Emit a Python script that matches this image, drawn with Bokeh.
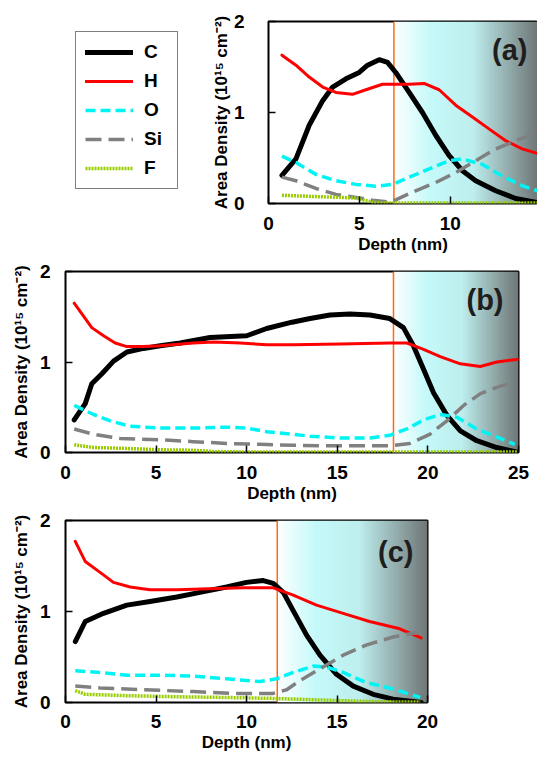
import numpy as np
from bokeh.plotting import figure
from bokeh.models import Legend, LegendItem, Label, Span, FixedTicker, Range1d
from bokeh.layouts import column, row
from bokeh.embed import file_html
from bokeh.resources import INLINE

# ---------------- data ----------------
elements = ["C", "H", "O", "Si", "F"]

# panel (a)
a_xmax = 14.8
a_boundary = 6.9
a_C_x = [0.74, 1.51, 2.24, 2.98, 3.53, 4.26, 4.99, 5.45, 6.09, 6.55, 7.0, 7.74, 8.47, 9.2, 9.93, 10.67, 11.4, 12.5, 13.6, 14.8]
a_C_y = [0.31, 0.49, 0.86, 1.13, 1.28, 1.37, 1.44, 1.52, 1.58, 1.55, 1.44, 1.22, 1.0, 0.75, 0.53, 0.36, 0.25, 0.14, 0.055, 0.01]
a_H_x = [0.74, 1.51, 2.24, 2.98, 3.71, 4.62, 5.36, 6.27, 7.0, 7.74, 8.56, 9.39, 10.3, 11.22, 12.13, 13.05, 13.96, 14.8]
a_H_y = [1.63, 1.52, 1.39, 1.28, 1.22, 1.20, 1.25, 1.31, 1.31, 1.31, 1.32, 1.25, 1.08, 0.95, 0.82, 0.69, 0.60, 0.55]
a_O_x = [0.74, 1.51, 2.61, 3.71, 4.81, 5.9, 6.82, 7.74, 8.84, 9.93, 10.67, 11.77, 12.87, 13.96, 14.8]
a_O_y = [0.52, 0.45, 0.32, 0.25, 0.21, 0.19, 0.21, 0.29, 0.38, 0.47, 0.49, 0.43, 0.30, 0.195, 0.14]
a_Si_x = [0.74, 1.51, 2.61, 3.71, 4.81, 5.72, 6.55, 7.0, 8.1, 9.2, 10.3, 11.4, 12.5, 13.6, 14.8]
a_Si_y = [0.29, 0.25, 0.165, 0.10, 0.066, 0.035, 0.017, 0.04, 0.14, 0.23, 0.34, 0.47, 0.60, 0.69, 0.78]
a_F_x = [0.74, 2.06, 3.53, 4.81, 5.72, 6.27, 8.0, 10.0, 12.0, 14.8]
a_F_y = [0.09, 0.08, 0.07, 0.06, 0.015, 0.005, 0.005, 0.005, 0.005, 0.005]

# panel (b)
b_xmax = 25.0
b_boundary = 18.1
b_C_x = [0.48, 1.09, 1.45, 2.01, 2.65, 3.39, 4.31, 5.23, 6.33, 7.98, 10.0, 11.1, 12.5, 13.5, 14.6, 15.7, 16.8, 17.9, 18.65, 19.2, 19.76, 20.31, 21.05, 21.79, 22.7, 23.8, 25.0]
b_C_y = [0.36, 0.54, 0.76, 0.87, 1.01, 1.11, 1.15, 1.18, 1.21, 1.27, 1.29, 1.37, 1.44, 1.48, 1.52, 1.53, 1.52, 1.48, 1.38, 1.18, 0.92, 0.66, 0.41, 0.24, 0.13, 0.055, 0.0]
b_H_x = [0.48, 1.45, 2.1, 2.74, 3.39, 4.31, 5.23, 7.06, 8.17, 9.64, 11.1, 12.58, 15.16, 17.9, 18.84, 19.76, 20.68, 21.79, 22.89, 23.8, 25.0]
b_H_y = [1.65, 1.38, 1.29, 1.21, 1.17, 1.17, 1.18, 1.21, 1.22, 1.21, 1.19, 1.19, 1.20, 1.21, 1.21, 1.14, 1.06, 0.98, 0.95, 1.0, 1.03]
b_O_x = [0.48, 1.55, 2.47, 3.57, 5.23, 7.06, 8.9, 10.0, 11.1, 12.58, 13.5, 15.16, 16.8, 17.9, 18.84, 19.76, 20.68, 21.6, 22.7, 23.8, 24.8]
b_O_y = [0.52, 0.42, 0.35, 0.29, 0.27, 0.27, 0.28, 0.27, 0.23, 0.20, 0.18, 0.16, 0.16, 0.19, 0.26, 0.36, 0.42, 0.39, 0.26, 0.17, 0.09]
b_Si_x = [0.48, 1.55, 3.02, 5.23, 7.06, 8.9, 10.74, 12.58, 14.24, 16.0, 17.9, 19.0, 20.1, 21.05, 21.97, 22.9, 23.8, 24.6]
b_Si_y = [0.26, 0.20, 0.155, 0.14, 0.12, 0.10, 0.09, 0.08, 0.074, 0.074, 0.074, 0.10, 0.20, 0.35, 0.52, 0.65, 0.72, 0.77]
b_F_x = [0.48, 1.55, 3.39, 5.23, 7.06, 8.35, 12.0, 16.0, 20.0, 25.0]
b_F_y = [0.085, 0.055, 0.045, 0.03, 0.025, 0.008, 0.005, 0.005, 0.005, 0.005]

# panel (c)
c_xmax = 20.0
c_boundary = 11.7
c_C_x = [0.54, 1.09, 2.1, 3.39, 4.67, 6.15, 7.43, 8.9, 10.0, 10.93, 11.48, 12.03, 12.58, 13.32, 14.06, 14.97, 15.9, 17.0, 18.1, 19.65]
c_C_y = [0.67, 0.89, 0.98, 1.07, 1.11, 1.16, 1.21, 1.27, 1.32, 1.34, 1.31, 1.21, 1.01, 0.74, 0.52, 0.31, 0.18, 0.09, 0.037, 0.0]
c_H_x = [0.54, 1.09, 1.91, 2.65, 3.57, 4.67, 6.15, 7.98, 9.82, 11.48, 12.58, 13.87, 15.34, 16.8, 18.47, 19.65]
c_H_y = [1.77, 1.55, 1.43, 1.32, 1.27, 1.24, 1.24, 1.25, 1.26, 1.26, 1.18, 1.07, 0.98, 0.89, 0.81, 0.71]
c_O_x = [0.54, 1.91, 3.39, 5.23, 7.06, 8.9, 10.74, 11.66, 12.58, 13.69, 14.43, 15.34, 16.6, 18.1, 19.6]
c_O_y = [0.35, 0.33, 0.30, 0.30, 0.29, 0.26, 0.23, 0.26, 0.33, 0.40, 0.39, 0.33, 0.22, 0.15, 0.055]
c_Si_x = [0.54, 1.91, 4.31, 7.06, 9.27, 11.48, 12.22, 12.95, 14.06, 15.34, 16.6, 18.1, 19.2, 19.6]
c_Si_y = [0.18, 0.16, 0.14, 0.12, 0.10, 0.10, 0.14, 0.24, 0.37, 0.52, 0.63, 0.72, 0.76, 0.77]
c_F_x = [0.54, 1.09, 3.39, 6.15, 8.9, 11.48, 14.43, 17.2, 19.6]
c_F_y = [0.13, 0.09, 0.075, 0.063, 0.055, 0.045, 0.025, 0.008, 0.005]

y_ticks = [0, 1, 2]
x_ticks = [0, 5, 10, 15, 20, 25]
y_label = "Area Density (10\u00b9\u2075 cm\u207b\u00b2)"
x_label = "Depth (nm)"

# ---------------- styles ----------------
styles = {
    "C": dict(line_color="#000000", line_width=5, line_dash="solid", line_join="round", line_cap="round"),
    "H": dict(line_color="#ff0000", line_width=3, line_dash="solid", line_join="round", line_cap="round"),
    "O": dict(line_color="#00f4f4", line_width=3.5, line_dash="10 5"),
    "Si": dict(line_color="#808080", line_width=3.5, line_dash="16 7"),
    "F": dict(line_color="#99cc00", line_width=3.5, line_dash="2 1"),
}

FONT = "Liberation Sans"

grad_pos = [0.0, 0.25, 0.55, 1.0]
grad_rgb = [(255, 255, 255), (198, 250, 250), (190, 238, 238), (112, 118, 118)]


def gradient_image(n=256):
    t = np.linspace(0, 1, n)
    img = np.empty((1, n), dtype=np.uint32)
    view = img.view(dtype=np.uint8).reshape((1, n, 4))
    for ch in range(3):
        view[0, :, ch] = np.interp(t, grad_pos, [c[ch] for c in grad_rgb]).astype(np.uint8)
    view[0, :, 3] = 255
    return img


def make_panel(width, height, borders, xmax, boundary, data, tag, tag_off,
               ylab_standoff, ytick_standoff, xtick_standoff=13):
    left, right, top, bottom = borders
    p = figure(width=width, height=height, output_backend="svg", toolbar_location=None,
               x_range=Range1d(0, xmax), y_range=Range1d(0, 2),
               min_border_left=left, min_border_right=right,
               min_border_top=top, min_border_bottom=bottom)
    p.background_fill_color = "white"
    p.border_fill_color = "white"
    p.outline_line_color = "black"
    p.outline_line_width = 2
    p.grid.visible = False

    p.image_rgba(image=[gradient_image()], x=boundary, y=0, dw=xmax - boundary, dh=2, level="image")
    p.add_layout(Span(location=boundary, dimension="height", line_color="#ff6a10",
                      line_width=1.5, level="underlay"))

    rends = {}
    for el in elements:
        xs, ys = data[el]
        rends[el] = p.line(xs, ys, **styles[el])

    for ax in (p.xaxis[0], p.yaxis[0]):
        ax.axis_line_color = None
        ax.major_tick_in = 7
        ax.major_tick_out = 0
        ax.major_tick_line_color = "black"
        ax.major_tick_line_width = 1.5
        ax.minor_tick_line_color = None
        ax.major_label_text_font = FONT
        ax.major_label_text_font_style = "bold"
        ax.major_label_text_font_size = "19px"
        ax.major_label_text_color = "black"
        ax.axis_label_text_font = FONT
        ax.axis_label_text_font_style = "bold"
        ax.axis_label_text_font_size = "17px"
        ax.axis_label_text_color = "black"
    p.xaxis.ticker = FixedTicker(ticks=[t for t in x_ticks if t <= xmax])
    p.yaxis.ticker = FixedTicker(ticks=y_ticks)
    p.xaxis.axis_label = x_label
    p.yaxis.axis_label = y_label
    p.xaxis.major_label_standoff = xtick_standoff
    p.xaxis.axis_label_standoff = 2
    p.yaxis.major_label_standoff = ytick_standoff
    p.yaxis.axis_label_standoff = ylab_standoff

    p.add_layout(Label(x=xmax, y=2, x_offset=tag_off[0], y_offset=tag_off[1], text=tag,
                       text_align="right", text_baseline="top", text_font=FONT,
                       text_font_style="bold", text_font_size="29px", text_color="#1e1e1e"))
    return p, rends


pa, ra = make_panel(337, 261, (68, 0, 21, 58), a_xmax, a_boundary,
                    {"C": (a_C_x, a_C_y), "H": (a_H_x, a_H_y), "O": (a_O_x, a_O_y),
                     "Si": (a_Si_x, a_Si_y), "F": (a_F_x, a_F_y)},
                    "(a)", (-10, -12), 0, 24)
pb, rb = make_panel(537, 249, (65, 19, 10, 58), b_xmax, b_boundary,
                    {"C": (b_C_x, b_C_y), "H": (b_H_x, b_H_y), "O": (b_O_x, b_O_y),
                     "Si": (b_Si_x, b_Si_y), "F": (b_F_x, b_F_y)},
                    "(b)", (-15, -12), 6, 15)
pc, rc = make_panel(537, 248, (65, 110, 10, 56), c_xmax, c_boundary,
                    {"C": (c_C_x, c_C_y), "H": (c_H_x, c_H_y), "O": (c_O_x, c_O_y),
                     "Si": (c_Si_x, c_Si_y), "F": (c_F_x, c_F_y)},
                    "(c)", (-14, -15), 6, 15, xtick_standoff=12)

# legend holder figure (left of panel a); its ranges keep the lines off-frame
pl = figure(width=200, height=261, output_backend="svg", toolbar_location=None,
            x_range=Range1d(100, 101), y_range=Range1d(100, 101),
            min_border_left=0, min_border_right=0, min_border_top=21, min_border_bottom=58)
pl.axis.visible = False
pl.grid.visible = False
pl.outline_line_color = None
pl.background_fill_color = "white"
pl.border_fill_color = "white"
a_data = {"C": (a_C_x, a_C_y), "H": (a_H_x, a_H_y), "O": (a_O_x, a_O_y),
          "Si": (a_Si_x, a_Si_y), "F": (a_F_x, a_F_y)}
leg_rends = {el: pl.line(a_data[el][0], a_data[el][1], **styles[el]) for el in elements}

legend = Legend(items=[LegendItem(label=el, renderers=[leg_rends[el]]) for el in elements],
                location=(75, 14), margin=0, padding=9, spacing=7,
                glyph_width=48, glyph_height=20, label_height=20, label_width=24,
                label_standoff=11, label_text_font=FONT, label_text_font_style="bold",
                label_text_font_size="19px", label_text_color="black",
                border_line_color="black", border_line_width=1.5,
                background_fill_color="white", background_fill_alpha=1.0)
pl.add_layout(legend, "center")

layout = column(row(pl, pa, spacing=0), pb, row(pc, spacing=0), spacing=0)
open("out.html", "w").write(file_html(layout, INLINE))
